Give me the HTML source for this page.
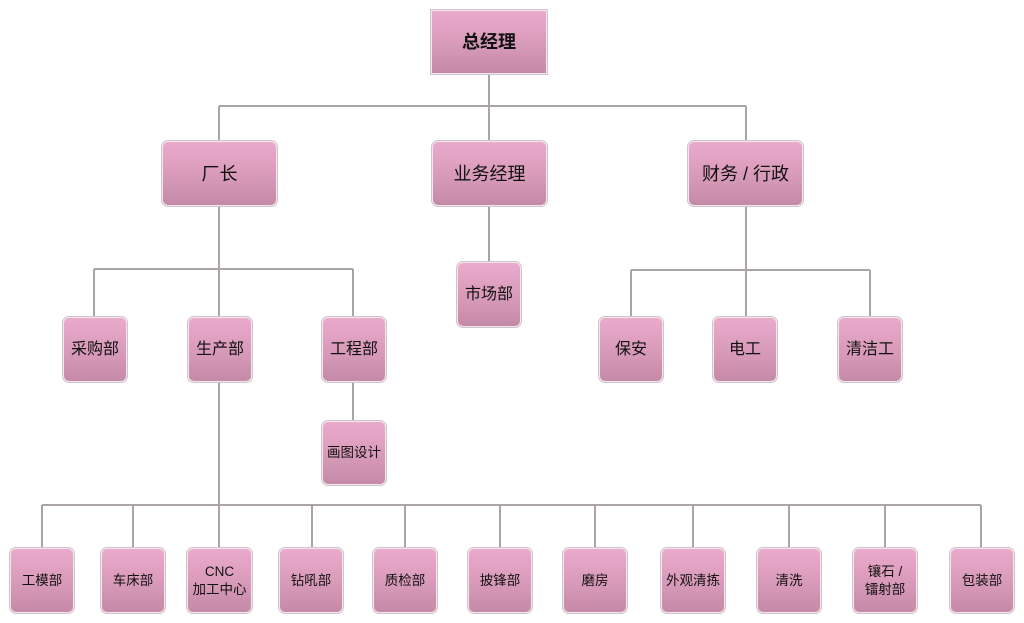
<!DOCTYPE html>
<html><head><meta charset="utf-8">
<style>
html,body{margin:0;padding:0;background:#fff;}
body{width:1024px;height:623px;position:relative;overflow:hidden;font-family:"Liberation Sans","Noto Sans CJK SC",sans-serif;}
svg{position:absolute;left:0;top:0;}
.b{position:absolute;box-sizing:border-box;border:1px solid #f4e6ee;outline:1px solid #cfc4ca;border-radius:6px;
background:linear-gradient(to bottom,#eaaacc 0%,#dc9dbd 45%,#c48aa7 100%);
display:flex;align-items:center;justify-content:center;text-align:center;color:#111;font-size:16px;line-height:20px;}
.s{font-size:13.5px;line-height:18px;}
.m{font-size:18px;}
.top{border-radius:0;font-weight:bold;font-size:18px;}
</style></head><body>
<svg width="1024" height="623">
<g stroke="#aaa3a8" stroke-width="2" fill="none">
<line x1="489" y1="74" x2="489" y2="141"/>
<line x1="219" y1="106" x2="746" y2="106"/>
<line x1="219" y1="106" x2="219" y2="141"/>
<line x1="746" y1="106" x2="746" y2="141"/>
<line x1="219" y1="206" x2="219" y2="317"/>
<line x1="94" y1="269" x2="353" y2="269"/>
<line x1="94" y1="269" x2="94" y2="317"/>
<line x1="353" y1="269" x2="353" y2="317"/>
<line x1="353" y1="382" x2="353" y2="421"/>
<line x1="489" y1="206" x2="489" y2="262"/>
<line x1="746" y1="206" x2="746" y2="317"/>
<line x1="631" y1="270" x2="870" y2="270"/>
<line x1="631" y1="270" x2="631" y2="317"/>
<line x1="870" y1="270" x2="870" y2="317"/>
<line x1="219" y1="382" x2="219" y2="548"/>
<line x1="42" y1="505" x2="981" y2="505"/>
<line x1="42" y1="505" x2="42" y2="548"/>
<line x1="133" y1="505" x2="133" y2="548"/>
<line x1="312" y1="505" x2="312" y2="548"/>
<line x1="405" y1="505" x2="405" y2="548"/>
<line x1="500" y1="505" x2="500" y2="548"/>
<line x1="595" y1="505" x2="595" y2="548"/>
<line x1="693" y1="505" x2="693" y2="548"/>
<line x1="789" y1="505" x2="789" y2="548"/>
<line x1="885" y1="505" x2="885" y2="548"/>
<line x1="981" y1="505" x2="981" y2="548"/>
</g>
</svg>

<div class="b top" style="left:431px;top:10px;width:116px;height:64px;">总经理</div>

<div class="b m" style="left:162px;top:141px;width:115px;height:65px;">厂长</div>
<div class="b m" style="left:432px;top:141px;width:115px;height:65px;">业务经理</div>
<div class="b m" style="left:688px;top:141px;width:115px;height:65px;">财务 / 行政</div>

<div class="b" style="left:63px;top:317px;width:64px;height:65px;">采购部</div>
<div class="b" style="left:188px;top:317px;width:64px;height:65px;">生产部</div>
<div class="b" style="left:322px;top:317px;width:64px;height:65px;">工程部</div>
<div class="b s" style="left:322px;top:421px;width:64px;height:64px;">画图设计</div>

<div class="b" style="left:457px;top:262px;width:64px;height:65px;">市场部</div>

<div class="b" style="left:599px;top:317px;width:64px;height:65px;">保安</div>
<div class="b" style="left:713px;top:317px;width:64px;height:65px;">电工</div>
<div class="b" style="left:838px;top:317px;width:64px;height:65px;">清洁工</div>

<div class="b s" style="left:10px;top:548px;width:64px;height:65px;">工模部</div>
<div class="b s" style="left:101px;top:548px;width:64px;height:65px;">车床部</div>
<div class="b s" style="left:187px;top:548px;width:65px;height:65px;">CNC<br>加工中心</div>
<div class="b s" style="left:279px;top:548px;width:64px;height:65px;">钻吼部</div>
<div class="b s" style="left:373px;top:548px;width:64px;height:65px;">质检部</div>
<div class="b s" style="left:468px;top:548px;width:64px;height:65px;">披锋部</div>
<div class="b s" style="left:563px;top:548px;width:64px;height:65px;">磨房</div>
<div class="b s" style="left:661px;top:548px;width:64px;height:65px;">外观清拣</div>
<div class="b s" style="left:757px;top:548px;width:64px;height:65px;">清洗</div>
<div class="b s" style="left:853px;top:548px;width:64px;height:65px;">镶石 /<br>镭射部</div>
<div class="b s" style="left:950px;top:548px;width:64px;height:65px;">包装部</div>
</body></html>
